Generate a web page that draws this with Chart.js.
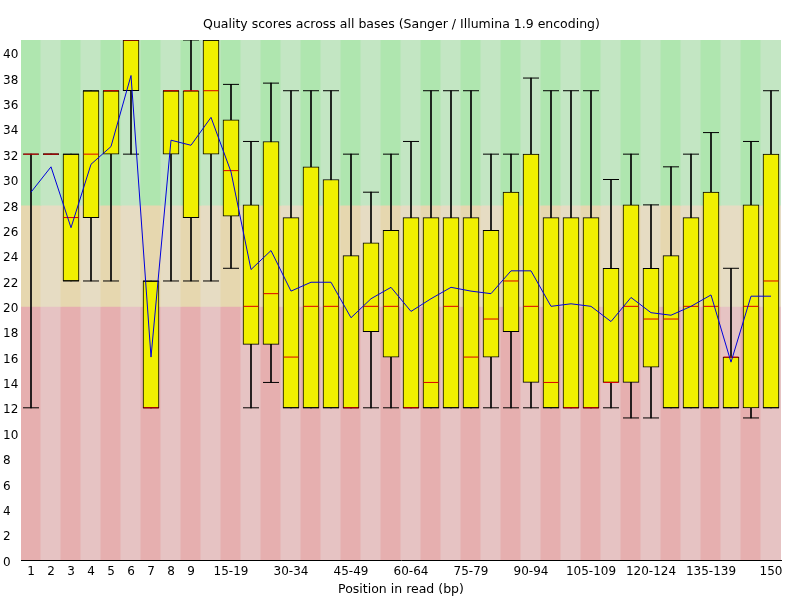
<!DOCTYPE html>
<html>
<head>
<meta charset="utf-8">
<script src="https://cdn.jsdelivr.net/npm/chart.js@4.4.1/dist/chart.umd.min.js"></script>
<style>
html,body{margin:0;padding:0;background:#ffffff;}
#wrap{width:800px;height:600px;}
</style>
</head>
<body>
<div id="wrap"><canvas id="c" width="800" height="600"></canvas></div>
<script>
// ---- data ----
const positions = ['1','2','3','4','5','6','7','8','9','10-14','15-19','20-24','25-29','30-34','35-39','40-44','45-49','50-54','55-59','60-64','65-69','70-74','75-79','80-84','85-89','90-94','95-99','100-104','105-109','110-114','115-119','120-124','125-129','130-134','135-139','140-144','145-149','150'];
const medianQ = [32,32,27,32,37,41,12,37,37,37,30.7,20,21,16,20,20,12,20,20,12,14,20,16,19,22,20,14,12,12,14,20,19,19,20,20,16,20,22];
const lowerQuartile = [32,32,22,27,32,37,12,32,27,32,27.1,17,17,12,12,12,12,18,16,12,12,12,12,16,18,14,12,12,12,14,14,15.2,12,12,12,12,12,12];
const upperQuartile = [32,32,32,37,37,41,22,37,37,41,34.7,28,33,27,31,30,24,25,26,27,27,27,27,26,29,32,27,27,27,23,28,23,24,27,29,16,28,32];
const lowerWhisker = [12,32,22,22,22,32,12,22,22,22,23,12,14,12,12,12,12,12,12,12,12,12,12,12,12,12,12,12,12,12,11.2,11.2,12,12,12,12,11.2,12];
const upperWhisker = [32,32,32,37,37,41,22,37,41,41,37.5,33,37.6,37,37,37,32,29,32,33,37,37,37,32,32,38,37,37,37,30,32,28,31,32,33.7,23,33,37];
const meanQ = [29.0,31.0,26.2,31.2,32.6,38.2,16.0,33.1,32.7,34.9,30.6,22.9,24.4,21.2,21.9,21.9,19.1,20.6,21.5,19.6,20.6,21.5,21.2,21.0,22.8,22.8,20.0,20.2,20.0,18.8,20.7,19.5,19.3,20.0,20.9,15.6,20.8,20.8];
const yTicks = [0,2,4,6,8,10,12,14,16,18,20,22,24,26,28,30,32,34,36,38,40];
const bandLimits = [[28,41],[20,28],[0,20]];
const bandColors = [
  ['rgb(175,230,175)','rgb(195,230,195)'],
  ['rgb(230,215,175)','rgb(230,220,195)'],
  ['rgb(230,175,175)','rgb(230,195,195)']
];
const shownLabels = ['1','2','3','4','5','6','7','8','9','15-19','30-34','45-49','60-64','75-79','90-94','105-109','120-124','135-139','150'];

const FONT = {family:'DejaVu Sans', size:12, weight:'normal'};
const TITLE_FONT = {family:'DejaVu Sans', size:12.5, weight:'normal'};

const datasets = [];
bandLimits.forEach((lim, b) => {
  datasets.push({
    type:'bar',
    data: positions.map(() => [lim[0], lim[1]]),
    backgroundColor: ctx => bandColors[b][ctx.dataIndex % 2],
    borderWidth:0,
    barPercentage:1,
    categoryPercentage:1,
    grouped:false,
    inflateAmount:0.5,
    order:10
  });
});
datasets.push({
  type:'bar',
  data: lowerWhisker.map((v,i) => [v, upperWhisker[i]]),
  backgroundColor:'#000000',
  borderWidth:0,
  barThickness:1,
  grouped:false,
  order:6
});
datasets.push({
  type:'bar',
  data: lowerQuartile.map((v,i) => [v, upperQuartile[i]]),
  backgroundColor:'rgb(240,240,0)',
  borderColor:'#000000',
  borderWidth:1,
  borderSkipped:false,
  barThickness:16,
  grouped:false,
  order:5
});
[lowerWhisker, upperWhisker].forEach(arr => {
  datasets.push({
    type:'line',
    data: arr,
    showLine:false,
    pointStyle:'line',
    pointRadius:8,
    pointHoverRadius:8,
    pointBorderColor:'#000000',
    pointBorderWidth:1,
    order:4
  });
});
datasets.push({
  type:'line',
  data: medianQ,
  showLine:false,
  pointStyle:'line',
  pointRadius:7.5,
  pointHoverRadius:7.5,
  pointBorderColor:'rgb(220,0,0)',
  pointBorderWidth:1,
  order:3
});
datasets.push({
  type:'line',
  data: meanQ,
  borderColor:'rgb(0,0,220)',
  borderWidth:1,
  pointRadius:0,
  tension:0,
  fill:false,
  order:1
});

new Chart(document.getElementById('c'), {
  type:'bar',
  data:{labels:positions, datasets},
  options:{
    responsive:false,
    devicePixelRatio:1,
    animation:false,
    events:[],
    layout:{padding:{left:3,right:0,top:0,bottom:0}},
    plugins:{
      legend:{display:false},
      tooltip:{enabled:false},
      title:{
        display:true,
        text:'Quality scores across all bases (Sanger / Illumina 1.9 encoding)',
        color:'#000000',
        font:TITLE_FONT,
        padding:{top:17,bottom:8}
      }
    },
    scales:{
      x:{
        type:'category',
        offset:true,
        grid:{display:false, drawTicks:false},
        border:{display:true, color:'#000000', width:1},
        ticks:{
          autoSkip:false, maxRotation:0, minRotation:0,
          color:'#000000', font:FONT, padding:5,
          callback:(v,i) => shownLabels.includes(positions[i]) ? positions[i] : ''
        },
        title:{display:true, text:'Position in read (bp)', color:'#000000', font:TITLE_FONT, padding:{top:0,bottom:3}},
        afterFit: s => { s.height = 40; }
      },
      y:{
        type:'linear',
        position:'left',
        min:0, max:41,
        grid:{display:false, drawTicks:false},
        border:{display:true, color:'#000000', width:1},
        afterBuildTicks: s => { s.ticks = yTicks.map(v => ({value:v})); },
        ticks:{color:'#000000', font:FONT, crossAlign:'far', padding:0, labelOffset:2.5},
        afterFit: s => { s.width = 18; }
      },
      yRight:{
        type:'linear',
        position:'right',
        min:0, max:41,
        display:true,
        grid:{display:false, drawTicks:false},
        border:{display:false},
        ticks:{display:false},
        afterFit: s => { s.width = 19; }
      }
    }
  }
});
</script>
</body>
</html>
